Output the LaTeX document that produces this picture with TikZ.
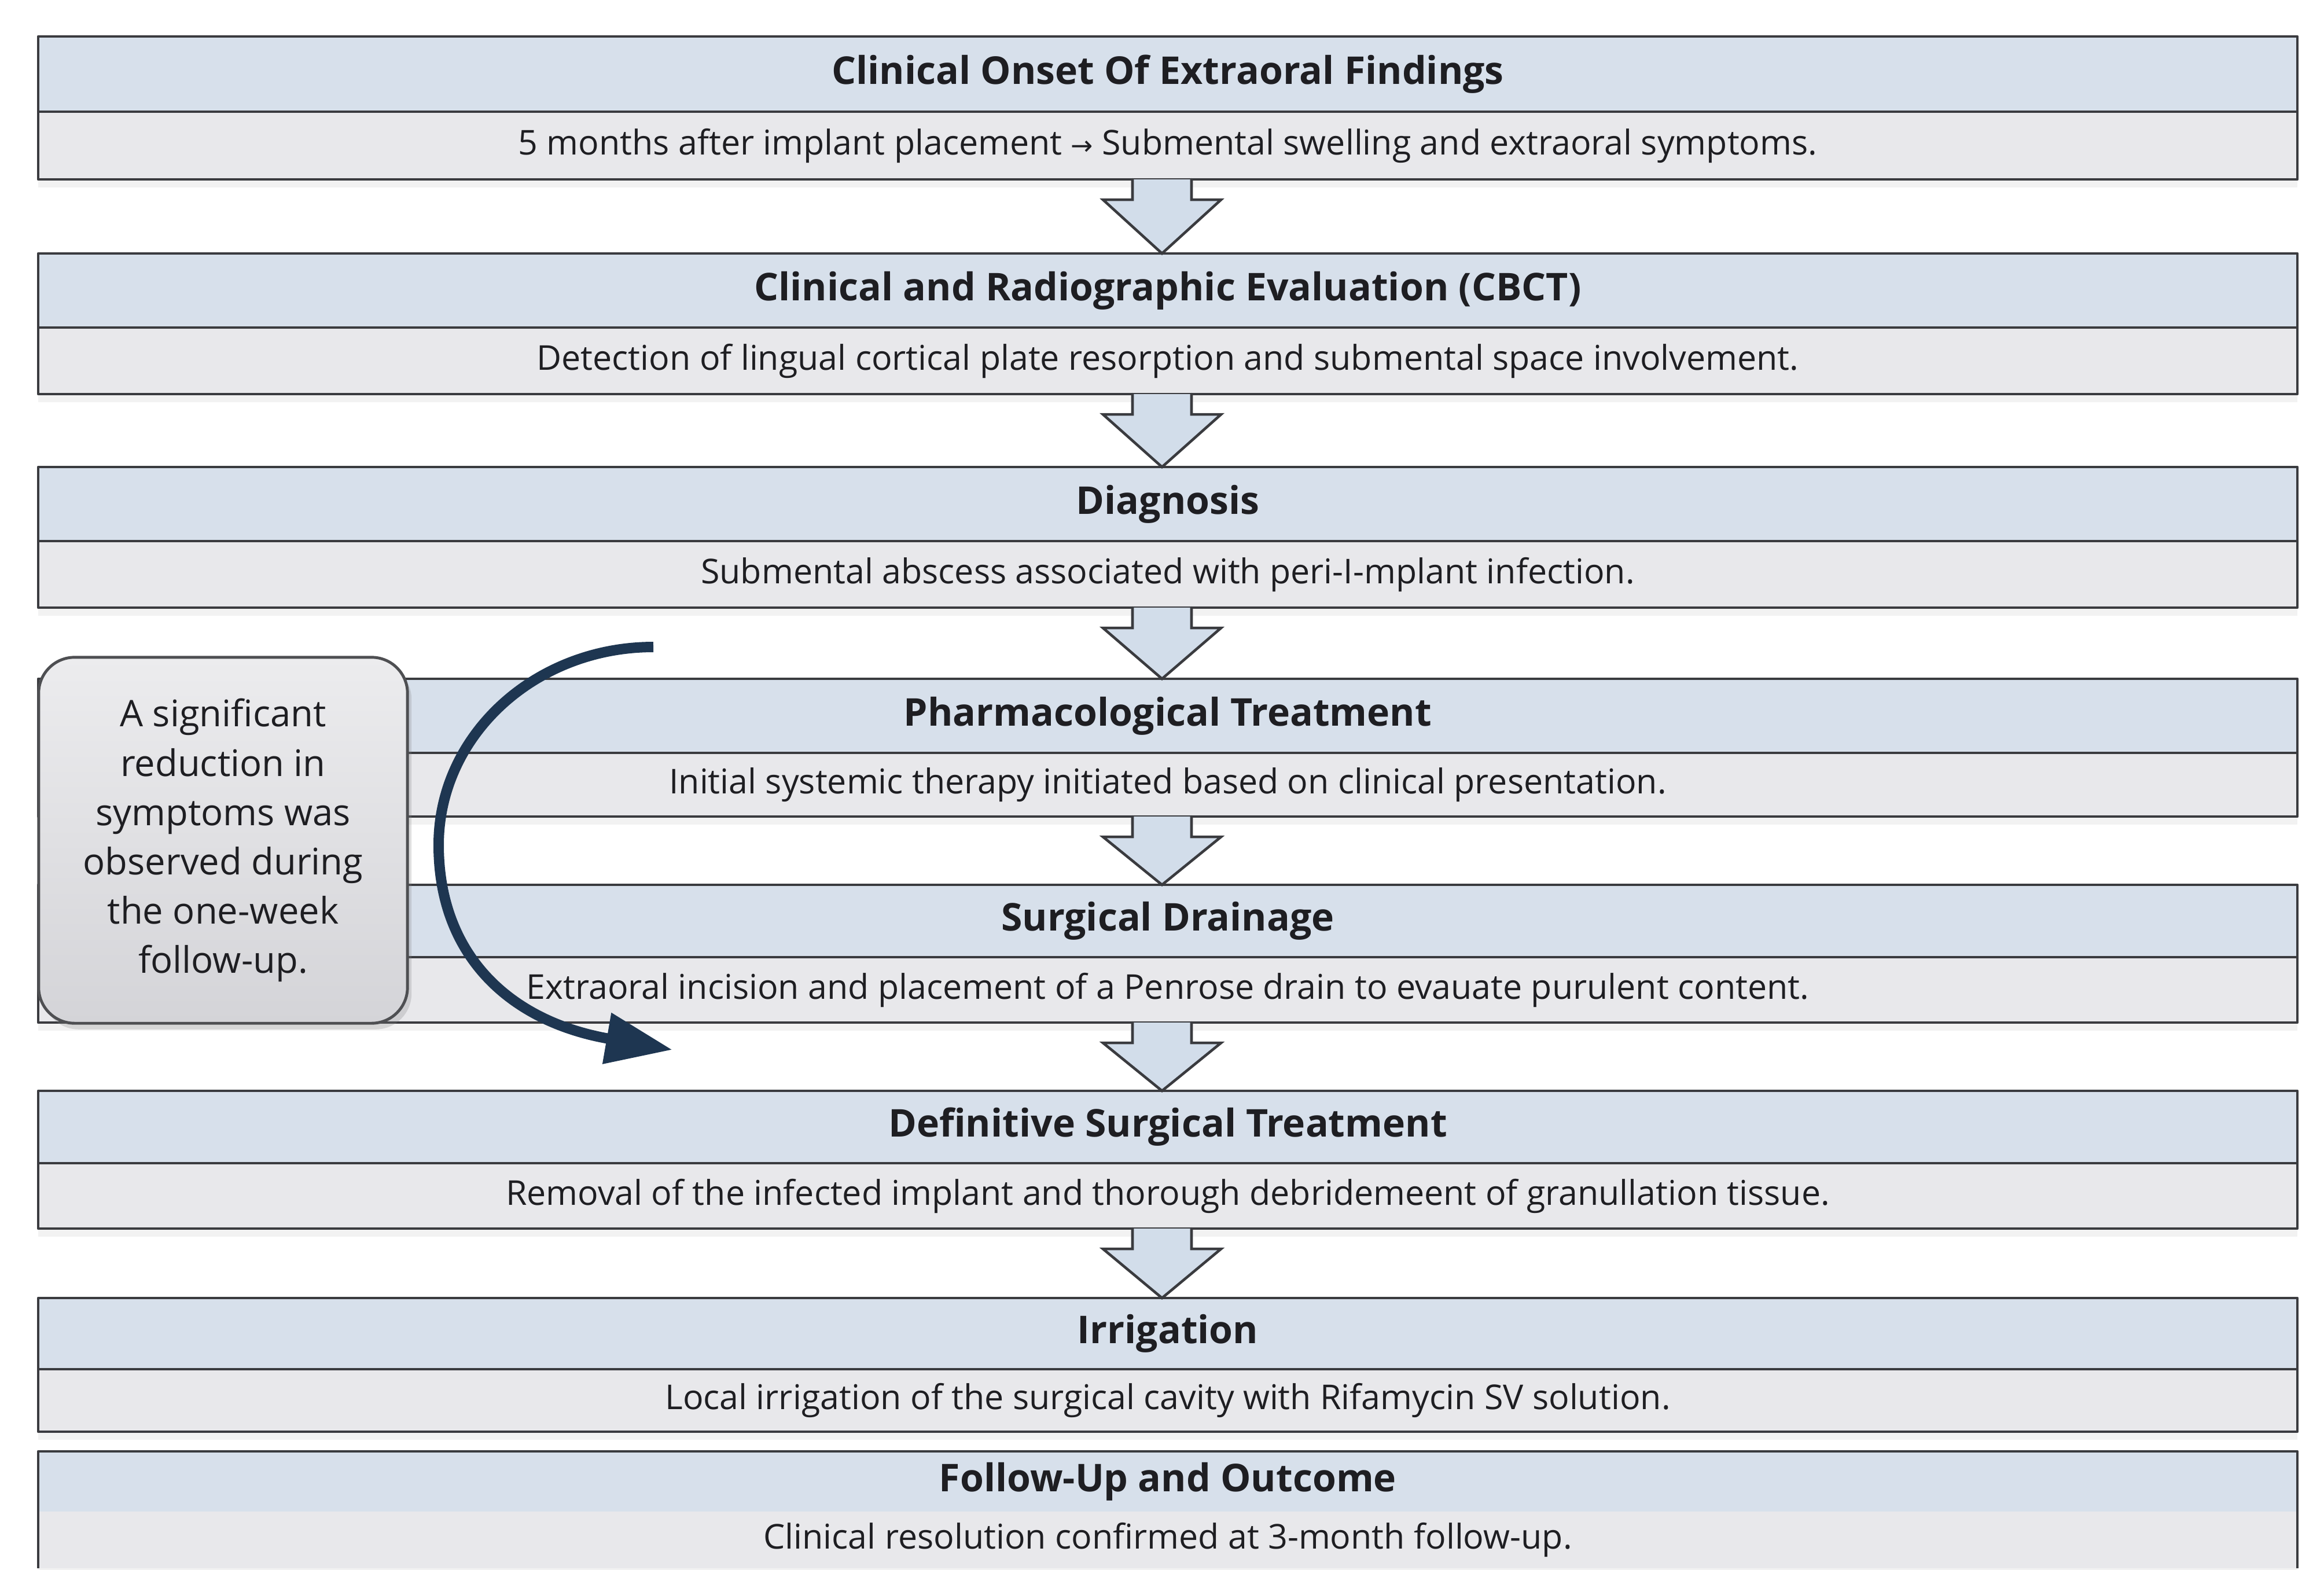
\documentclass[tikz,border=0pt]{standalone}
\usepackage{fontspec}
\setmainfont{Open Sans}
\newfontfamily\symfont{DejaVu Sans}
\usetikzlibrary{arrows.meta, positioning, calc, shadows}
\definecolor{edge}{HTML}{3A3B3F}
\definecolor{bandblue}{HTML}{D7E0EB}
\definecolor{bandgrey}{HTML}{E8E8EB}
\definecolor{flowblue}{HTML}{D2DDEA}
\definecolor{notetop}{HTML}{ECECEE}
\definecolor{notebot}{HTML}{D4D4D8}
\definecolor{navy}{HTML}{1E3651}
\definecolor{ink}{HTML}{1E1E22}

\begin{document}
\begin{tikzpicture}[x=0.01cm, y=-0.01cm, >=Latex, line cap=round, line join=round]

% --------- styles ----------
\tikzset{
  titleband/.style={draw=edge, line width=1.2pt, fill=bandblue, minimum width=39.02cm,
    inner sep=0pt, outer sep=0pt, text=ink, font=\fontsize{18.8}{22}\selectfont\bfseries},
  textband/.style={titleband, fill=bandgrey, font=\fontsize{16.8}{20}\selectfont,
    drop shadow={opacity=0.10, shadow xshift=0pt, shadow yshift=-4pt}},
  flow/.style={draw=edge, line width=1.3pt, fill=flowblue, line join=miter},
  note/.style={draw=edge!90, line width=1.4pt, rounded corners=0.62cm, top color=notetop,
    bottom color=notebot, minimum width=6.37cm, minimum height=6.32cm, align=center,
    text=ink, font=\fontsize{18}{24.2}\selectfont,
    drop shadow={opacity=0.25, shadow xshift=2pt, shadow yshift=-3pt}},
  turn/.style={draw=navy, line width=0.18cm, line cap=butt,
    -{Triangle[length=1.15cm, width=0.85cm]}}
}
% hollow block arrow from one stage to the next
\def\flowarrow#1#2{%
  \draw[flow] ($(#1.south)+(-61,0)$) -- ($(#1.south)+(-61,35)$) -- ($(#1.south)+(-112,35)$)
    -- ($(#2.north)+(-10,0)$) -- ($(#1.south)+(92,35)$) -- ($(#1.south)+(41,35)$)
    -- ($(#1.south)+(41,0)$);
}

% ===================== stages =====================
\node[titleband, minimum height=1.30cm] (onset) at (2018,128) {Clinical Onset Of Extraoral Findings};
\node[textband, minimum height=1.17cm, below=0pt of onset] (onsettxt)
  {5 months after implant placement {\symfont\fontsize{13}{16}\selectfont →} Submental swelling and extraoral symptoms.};

\node[titleband, minimum height=1.28cm] (cbct) at (2018,502) {Clinical and Radiographic Evaluation (CBCT)};
\node[textband, minimum height=1.15cm, below=0pt of cbct] (cbcttxt)
  {Detection of lingual cortical plate resorption and submental space involvement.};

\node[titleband, minimum height=1.28cm] (diag) at (2018,871) {Diagnosis};
\node[textband, minimum height=1.15cm, below=0pt of diag] (diagtxt)
  {Submental abscess associated with peri-I-mplant infection.};

\node[titleband, minimum height=1.28cm] (pharm) at (2018,1237) {Pharmacological Treatment};
\node[textband, minimum height=1.10cm, below=0pt of pharm] (pharmtxt)
  {Initial systemic therapy initiated based on clinical presentation.};

\node[titleband, minimum height=1.25cm] (drain) at (2018,1591.5) {Surgical Drainage};
\node[textband, minimum height=1.13cm, below=0pt of drain] (draintxt)
  {Extraoral incision and placement of a Penrose drain to evauate purulent content.};

\node[titleband, minimum height=1.25cm] (defin) at (2018,1947.5) {Definitive Surgical Treatment};
\node[textband, minimum height=1.13cm, below=0pt of defin] (defintxt)
  {Removal of the infected implant and thorough debridemeent of granullation tissue.};

\node[titleband, minimum height=1.23cm] (irrig) at (2018,2304.5) {Irrigation};
\node[textband, minimum height=1.08cm, below=0pt of irrig] (irrigtxt)
  {Local irrigation of the surgical cavity with Rifamycin SV solution.};

% last stage runs off the page: no divider, no bottom edge
\node[titleband, draw=none, minimum height=1.04cm] (outcome) at (2018,2560) {Follow-Up and Outcome};
\node[textband, draw=none, minimum height=0.98cm, below=0pt of outcome] (outcometxt)
  {Clinical resolution confirmed at 3-month follow-up.};
\draw[edge, line width=1.2pt, line cap=butt] (outcometxt.south west) -- (outcome.north west)
  -- (outcome.north east) -- (outcometxt.south east);

% arrows
\flowarrow{onsettxt}{cbct}
\flowarrow{cbcttxt}{diag}
\flowarrow{diagtxt}{pharm}
\flowarrow{pharmtxt}{drain}
\flowarrow{draintxt}{defin}
\flowarrow{defintxt}{irrig}

% ===================== side note and curved arrow =====================
\node[note] (week) at (385.5,1452) {A significant\\reduction in\\symptoms was\\observed during\\the one-week\\follow-up.};

\coordinate (turnstart) at (1129,1118);
\coordinate (turnend) at (1162,1814);
\draw[turn] (turnstart) .. controls (924,1118) and (758,1271) .. (758,1460)
  .. controls (758,1650) and (880,1765) .. (turnend);

\useasboundingbox (0,0) rectangle (4016,2697);
\end{tikzpicture}
\end{document}
